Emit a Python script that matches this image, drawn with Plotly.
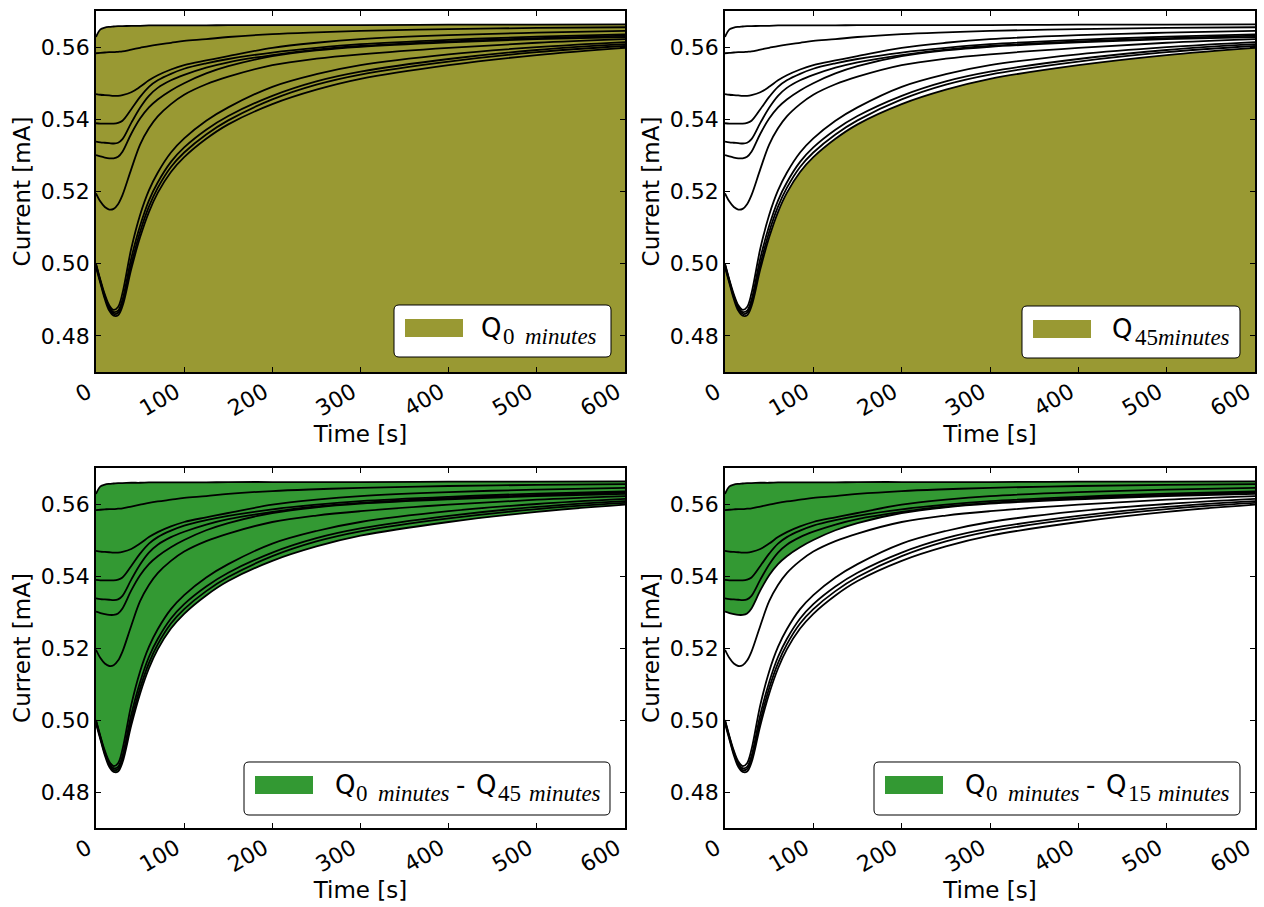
import plotly.graph_objects as go

# Sample times of the current transients [s]
time_s = [0, 5, 10, 15, 20, 25, 30, 40, 50, 60, 70, 85, 100, 125, 150, 200, 250, 300, 400, 500, 600]

# Current transients [mA], one per acquisition (top = 0 min, bottom = 45 min)
current_00min = [0.5628, 0.5649, 0.5654, 0.5656, 0.5657, 0.5658, 0.5658, 0.5659, 0.5659, 0.5660, 0.5660,
                 0.5660, 0.5660, 0.5660, 0.5661, 0.5661, 0.5661, 0.5661, 0.5662, 0.5662, 0.5663]
current_trace2 = [0.5583, 0.5584, 0.5585, 0.5586, 0.5586, 0.5587, 0.5588, 0.5593, 0.5598, 0.5603, 0.5607,
                  0.5612, 0.5617, 0.5622, 0.5628, 0.5636, 0.5641, 0.5645, 0.5650, 0.5653, 0.5655]
current_trace3 = [0.5470, 0.5468, 0.5467, 0.5466, 0.5465, 0.5465, 0.5467, 0.5475, 0.5490, 0.5508, 0.5522,
                  0.5538, 0.5550, 0.5563, 0.5575, 0.5598, 0.5612, 0.5622, 0.5633, 0.5640, 0.5645]
current_trace4 = [0.5389, 0.5388, 0.5388, 0.5388, 0.5388, 0.5390, 0.5396, 0.5428, 0.5462, 0.5490, 0.5508,
                  0.5526, 0.5540, 0.5555, 0.5567, 0.5585, 0.5598, 0.5608, 0.5620, 0.5629, 0.5635]
current_trace5 = [0.5338, 0.5336, 0.5335, 0.5334, 0.5333, 0.5335, 0.5345, 0.5390, 0.5432, 0.5465, 0.5487,
                  0.5508, 0.5523, 0.5543, 0.5558, 0.5578, 0.5593, 0.5603, 0.5616, 0.5625, 0.5632]
current_15min = [0.5301, 0.5297, 0.5294, 0.5292, 0.5292, 0.5296, 0.5310, 0.5360, 0.5402, 0.5433, 0.5455,
                 0.5480, 0.5500, 0.5527, 0.5547, 0.5575, 0.5591, 0.5601, 0.5613, 0.5622, 0.5628]
current_trace7 = [0.5195, 0.5172, 0.5157, 0.5150, 0.5152, 0.5165, 0.5190, 0.5262, 0.5330, 0.5375, 0.5408,
                  0.5442, 0.5468, 0.5497, 0.5518, 0.5550, 0.5568, 0.5580, 0.5598, 0.5612, 0.5622]
current_trace8 = [0.5000, 0.4955, 0.4915, 0.4885, 0.4872, 0.4880, 0.4918, 0.5042, 0.5135, 0.5203, 0.5252,
                  0.5308, 0.5347, 0.5396, 0.5433, 0.5490, 0.5525, 0.5550, 0.5580, 0.5600, 0.5614]
current_trace9 = [0.4998, 0.4952, 0.4910, 0.4880, 0.4866, 0.4870, 0.4900, 0.5015, 0.5105, 0.5175, 0.5225,
                  0.5282, 0.5322, 0.5371, 0.5409, 0.5465, 0.5505, 0.5532, 0.5567, 0.5592, 0.5608]
current_trace10 = [0.4995, 0.4950, 0.4907, 0.4876, 0.4861, 0.4864, 0.4891, 0.4998, 0.5088, 0.5158, 0.5210,
                   0.5268, 0.5308, 0.5358, 0.5397, 0.5455, 0.5496, 0.5524, 0.5560, 0.5586, 0.5603]
current_45min = [0.4990, 0.4946, 0.4902, 0.4870, 0.4856, 0.4857, 0.4882, 0.4985, 0.5073, 0.5143, 0.5196,
                 0.5254, 0.5295, 0.5346, 0.5386, 0.5442, 0.5482, 0.5512, 0.5550, 0.5578, 0.5598]

all_traces = [current_00min, current_trace2, current_trace3, current_trace4, current_trace5,
              current_15min, current_trace7, current_trace8, current_trace9, current_trace10,
              current_45min]

x_ticks = [0, 100, 200, 300, 400, 500, 600]
y_ticks = [0.48, 0.50, 0.52, 0.54, 0.56]

OLIVE = "#999933"
GREEN = "#339933"
W, H = 1264, 907


def fx(px):
    return px / W


def fy(py):
    return 1 - py / H


# pixel boxes of the four axes: (left, right, top, bottom)
boxes = [(96, 625, 11, 372), (725, 1255, 11, 372),
         (96, 625, 468, 828), (725, 1255, 468, 828)]

fig = go.Figure()


def axis_names(k):
    return ("x" if k == 1 else f"x{k}"), ("y" if k == 1 else f"y{k}")


def add_line(k, y, **kw):
    xa, ya = axis_names(k)
    fig.add_trace(go.Scatter(x=time_s, y=y, xaxis=xa, yaxis=ya, mode="lines",
                             showlegend=False, hoverinfo="skip", **kw))


# shaded charges
add_line(1, current_00min, fill="tozeroy", fillcolor=OLIVE, line=dict(width=0, shape="spline"))
add_line(2, current_45min, fill="tozeroy", fillcolor=OLIVE, line=dict(width=0, shape="spline"))
add_line(3, current_45min, line=dict(width=0, shape="spline"))
add_line(3, current_00min, fill="tonexty", fillcolor=GREEN, line=dict(width=0, shape="spline"))
add_line(4, current_15min, line=dict(width=0, shape="spline"))
add_line(4, current_00min, fill="tonexty", fillcolor=GREEN, line=dict(width=0, shape="spline"))

# transients drawn over the shading
for k in range(1, 5):
    for tr in all_traces:
        add_line(k, tr, line=dict(color="black", width=1.8, shape="spline"))

axis_font = dict(family="DejaVu Sans", size=22, color="black")
for k, (l, r, t, b) in enumerate(boxes, start=1):
    xa, ya = axis_names(k)
    xkey = "xaxis" if k == 1 else f"xaxis{k}"
    ykey = "yaxis" if k == 1 else f"yaxis{k}"
    fig.layout[xkey] = dict(
        domain=[fx(l), fx(r)], anchor=ya, range=[0, 600], tickvals=x_ticks,
        ticktext=[str(v) for v in x_ticks], tickangle=-30, ticks="inside", ticklen=5,
        tickcolor="black", showline=True, linecolor="black", linewidth=1.5, mirror="ticks",
        showgrid=False, zeroline=False, tickfont=axis_font, automargin=False,
        ticklabelshift=-8, ticklabelstandoff=-3,
        title=dict(text="Time [s]", font=dict(family="DejaVu Sans", size=23, color="black"), standoff=6))
    fig.layout[ykey] = dict(
        domain=[fy(b), fy(t)], anchor=xa, range=[0.47, 0.57], tickvals=y_ticks,
        ticktext=[f"{v:.2f}" for v in y_ticks], ticks="inside", ticklen=5,
        tickcolor="black", showline=True, linecolor="black", linewidth=1.5, mirror="ticks",
        showgrid=False, zeroline=False, tickfont=axis_font, automargin=False,
        title=dict(text="Current [mA]", font=dict(family="DejaVu Sans", size=23, color="black"), standoff=4))


# legend boxes drawn as rounded rectangles with a colour patch and math-style label
def rounded_rect(x0, y0, x1, y1, r=5):
    pts = [
        ("M", [(x0 + r, y0)]), ("L", [(x1 - r, y0)]), ("Q", [(x1, y0), (x1, y0 + r)]),
        ("L", [(x1, y1 - r)]), ("Q", [(x1, y1), (x1 - r, y1)]), ("L", [(x0 + r, y1)]),
        ("Q", [(x0, y1), (x0, y1 - r)]), ("L", [(x0, y0 + r)]), ("Q", [(x0, y0), (x0 + r, y0)]),
    ]
    s = ""
    for cmd, ps in pts:
        s += cmd + " " + " ".join(f"{fx(px):.5f},{fy(py):.5f}" for px, py in ps) + " "
    return s + "Z"


def text_at(x_left, baseline, text, family, size, asc_desc):
    # place text so that its baseline sits at the requested pixel row
    centre = baseline - asc_desc * size
    fig.add_annotation(x=fx(x_left), y=fy(centre), xref="paper", yref="paper", text=text,
                       showarrow=False, xanchor="left", yanchor="middle", borderpad=0,
                       font=dict(family=family, size=size, color="black"))


SANS = ("DejaVu Sans", 26, 0.346)
SERIF = ("Liberation Serif", 23, 0.3375)


def legend(box, colour, pieces):
    x0, y0, x1, y1 = box
    fig.add_shape(type="path", path=rounded_rect(x0, y0, x1, y1), xref="paper", yref="paper",
                  line=dict(color="black", width=1), fillcolor="white", layer="above")
    fig.add_shape(type="rect", x0=fx(x0 + 11), x1=fx(x0 + 69), y0=fy(y0 + 14), y1=fy(y0 + 32),
                  xref="paper", yref="paper", line=dict(width=0), fillcolor=colour, layer="above")
    for txt, xl, kind in pieces:
        fam, size, k = SANS if kind == "main" else SERIF
        base = y0 + 32 if kind == "main" else y0 + 39
        text_at(xl, base, txt, fam, size, k)


legend((394, 305, 611, 357), OLIVE,
       [("Q", 480, "main"), ("0", 502, "sub"), ("<i>minutes</i>", 524, "sub")])
legend((1022, 306, 1240, 358), OLIVE,
       [("Q", 1111, "main"), ("45", 1134, "sub"), ("<i>minutes</i>", 1157, "sub")])
legend((244, 762, 610, 815), GREEN,
       [("Q", 334, "main"), ("0", 355, "sub"), ("<i>minutes</i>", 377, "sub"),
        ("-", 455, "main"), ("Q", 475, "main"), ("45", 497, "sub"), ("<i>minutes</i>", 528, "sub")])
legend((874, 762, 1240, 815), GREEN,
       [("Q", 964, "main"), ("0", 985, "sub"), ("<i>minutes</i>", 1007, "sub"),
        ("-", 1085, "main"), ("Q", 1105, "main"), ("15", 1127, "sub"), ("<i>minutes</i>", 1157, "sub")])

fig.update_layout(width=W, height=H, margin=dict(l=0, r=0, t=0, b=0),
                  paper_bgcolor="white", plot_bgcolor="white",
                  font=dict(family="DejaVu Sans", color="black"), showlegend=False)

fig.write_html("out.html")
